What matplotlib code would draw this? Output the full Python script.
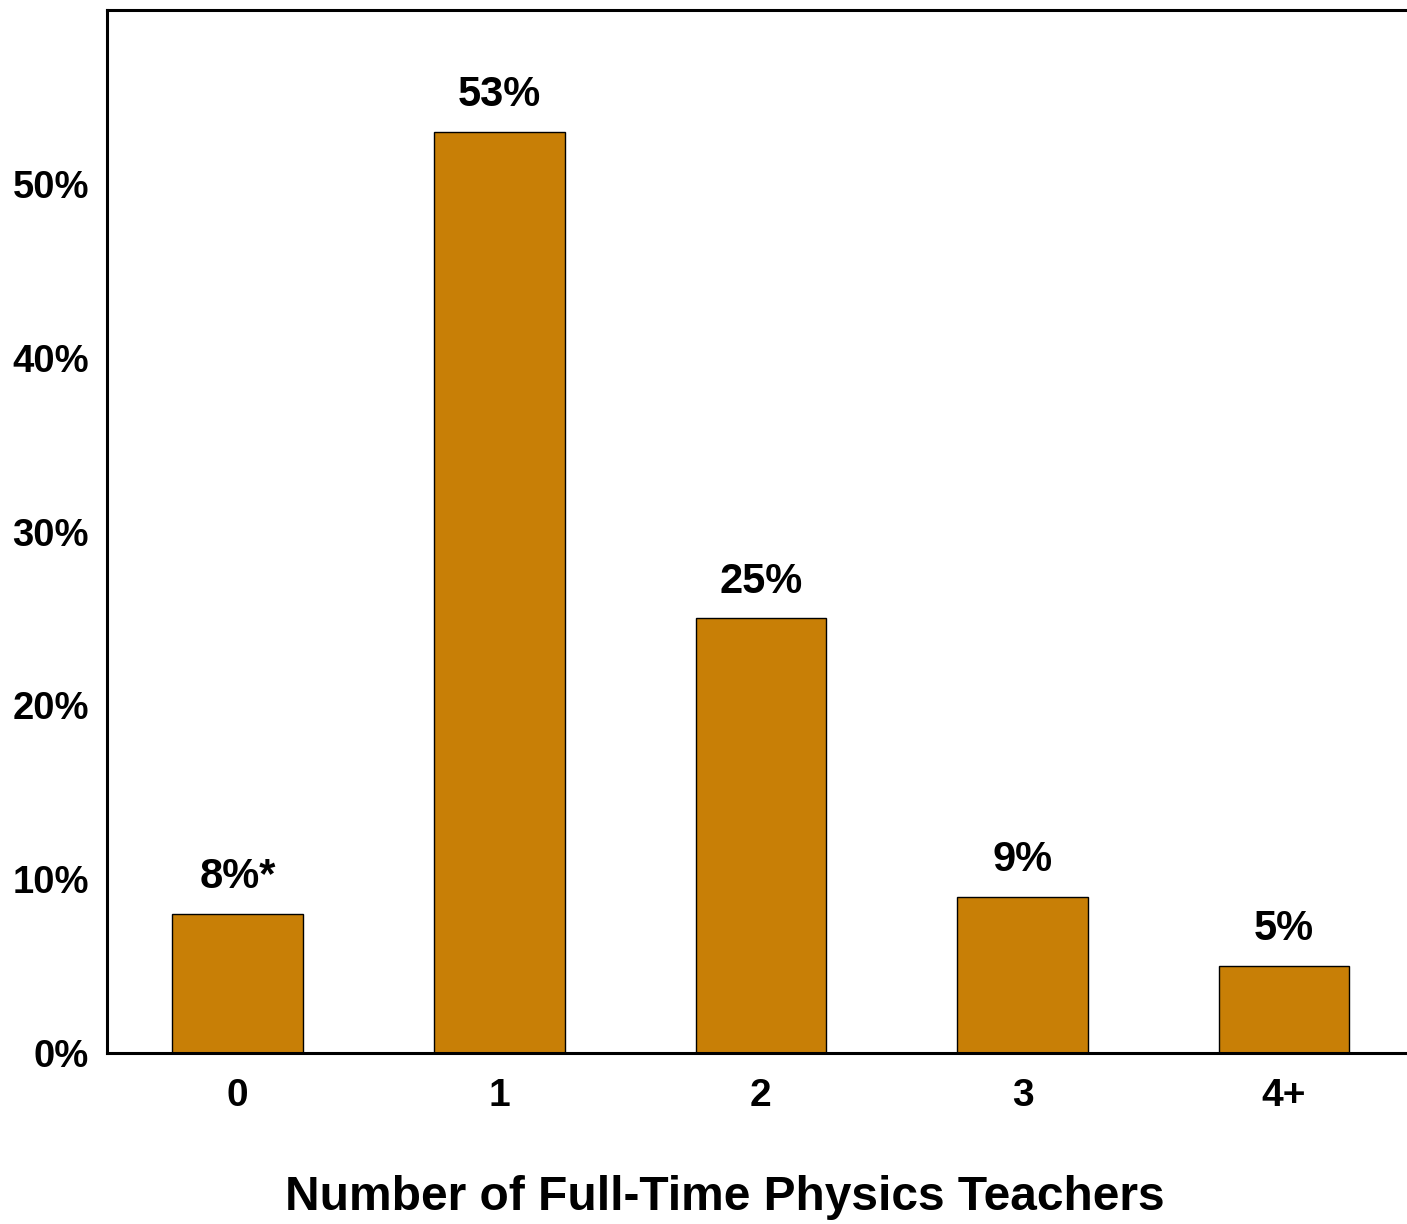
import matplotlib
matplotlib.use("Agg")
import matplotlib.pyplot as plt
from matplotlib.ticker import FuncFormatter

# ===================== DATA =====================
categorias = ["0", "1", "2", "3", "4+"]
valores = [8, 53, 25, 9, 5]
rotulos = ["8%*", "53%", "25%", "9%", "5%"]
y_ticks = [0, 10, 20, 30, 40, 50]

cor_barra = "#C87F06"

plt.rcParams['font.family'] = ['Liberation Sans', 'DejaVu Sans']
plt.rcParams['font.weight'] = 'bold'

fig = plt.figure(figsize=(14.07, 12.24), dpi=100)
ax = fig.add_axes([107/1407, 1 - 1053/1224, 1 - 107/1407, (1053 - 10)/1224])

x = list(range(len(categorias)))
ax.bar(x, valores, width=0.5, color=cor_barra, edgecolor="black", linewidth=1.0)

# rotulos acima das barras
for xi, v, r in zip(x, valores, rotulos):
    ax.annotate(r, (xi, v), xytext=(0, 12), textcoords="offset points",
                ha="center", va="bottom", fontsize=30, fontweight="bold")

ax.set_xlim(-0.5, 4.47)
ax.set_ylim(0, 60.0)
ax.set_xticks(x)
ax.set_xticklabels(categorias, fontsize=28, fontweight="bold")
ax.set_yticks(y_ticks)
ax.yaxis.set_major_formatter(FuncFormatter(lambda v, p: f"{int(v)}%"))
for t in ax.get_yticklabels():
    t.set_fontsize(27.5)
    t.set_fontweight("bold")
ax.tick_params(axis="both", length=0)
ax.tick_params(axis="y", pad=13)
ax.tick_params(axis="x", pad=18)

ax.spines["right"].set_visible(False)
for s in ["left", "top", "bottom"]:
    ax.spines[s].set_linewidth(2.2)

fig.text(725/1407, 1 - 1197/1224, "Number of Full-Time Physics Teachers",
         ha="center", va="center", fontsize=34.5, fontweight="bold")

fig.savefig("out.png", dpi=100)
